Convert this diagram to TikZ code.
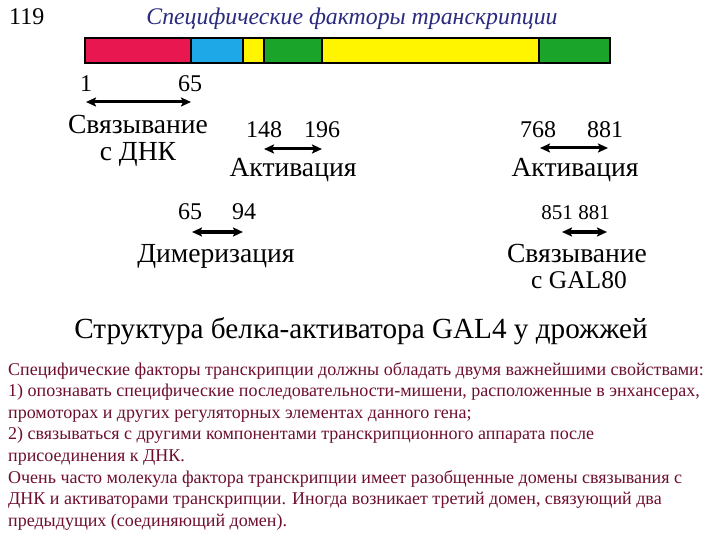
\documentclass[tikz,border=0pt]{standalone}
\usepackage{fontspec}
\setmainfont{Liberation Serif}
\usetikzlibrary{arrows.meta}
\definecolor{segred}{HTML}{E8174F}
\definecolor{segblue}{HTML}{1EA8E8}
\definecolor{segyellow}{HTML}{FFF500}
\definecolor{seggreen}{HTML}{1AA52A}
\definecolor{titleblue}{HTML}{2A2A80}
\definecolor{bodyred}{HTML}{6E0F2E}
\begin{document}
\begin{tikzpicture}[x=1pt,y=-1pt,
  seg/.style={draw=black,line width=1.2pt},
  num/.style={font=\fontsize{24}{26}\selectfont,anchor=base,inner sep=0pt},
  smallnum/.style={font=\fontsize{21}{24}\selectfont,anchor=base,inner sep=0pt},
  lab/.style={font=\fontsize{27.6}{30}\selectfont,anchor=base,inner sep=0pt},
  body/.style={font=\fontsize{18}{20}\selectfont,text=bodyred,anchor=base west,inner sep=0pt},
  span/.style={{Stealth[length=10pt,width=9pt,inset=2pt]}-{Stealth[length=10pt,width=9pt,inset=2pt]},line width=3pt}]
\useasboundingbox[fill=white] (0,0) rectangle (720,540);

\node[anchor=base west,inner sep=0pt,font=\fontsize{24}{26}\selectfont] (pg) at (9,25) {119};
\node[anchor=base,inner sep=0pt,font=\fontsize{23.8}{26}\selectfont\itshape,text=titleblue] (ttl) at (352,25) {Специфические факторы транскрипции};

% protein bar
\path[fill=segred]    (85,38) rectangle (191,63);
\path[fill=segblue]   (191,38) rectangle (243,63);
\path[fill=segyellow] (243,38) rectangle (264,63);
\path[fill=seggreen]  (264,38) rectangle (322,63);
\path[fill=segyellow] (322,38) rectangle (539,63);
\path[fill=seggreen]  (539,38) rectangle (610,63);
\draw[seg] (85,38) rectangle (610,63);
\foreach \xx in {191,243,264,322,539} \draw[seg] (\xx,38) -- (\xx,63);

% DNA binding 1-65
\node[num] (n1) at (86,92) {1};
\node[num] (n65a) at (190,92) {65};
\coordinate (a1l) at (86,102);
\coordinate (a1r) at (191,102);
\draw[span] (a1l) -- (a1r);
\node[lab] (dnab1) at (138,134) {Связывание};
\node[lab] (dnab2) at (138,161) {с ДНК};

% activation 148-196
\node[num] (n148) at (264,138) {148};
\node[num] (n196) at (322,138) {196};
\coordinate (a2l) at (264,149);
\coordinate (a2r) at (322,149);
\draw[span] (a2l) -- (a2r);
\node[lab] (act1) at (293,177) {Активация};

% dimerization 65-94
\node[num] (n65b) at (190,220) {65};
\node[num] (n94) at (244,220) {94};
\coordinate (a3l) at (192,232);
\coordinate (a3r) at (243,232);
\draw[span] (a3l) -- (a3r);
\node[lab] (dim) at (216,262) {Димеризация};

% activation 768-881
\node[num] (n768) at (538,138) {768};
\node[num] (n881a) at (605,138) {881};
\coordinate (a4l) at (540,148);
\coordinate (a4r) at (608,148);
\draw[span] (a4l) -- (a4r);
\node[lab] (act2) at (575,177) {Активация};

% GAL80 binding 851-881
\node[smallnum] (n851) at (557,220) {851};
\node[smallnum] (n881b) at (594,220) {881};
\coordinate (a5l) at (562,232);
\coordinate (a5r) at (607,232);
\draw[span] (a5l) -- (a5r);
\node[lab] (gal1) at (577,262) {Связывание};
\node[lab,font=\fontsize{25.5}{28}\selectfont] (gal2) at (579,288) {с GAL80};

\node[anchor=base,inner sep=0pt,font=\fontsize{29.2}{31}\selectfont] (cap) at (361,338) {Структура белка-активатора GAL4 у дрожжей};

% body text
\node[body] (l1) at (8,375) {Специфические факторы транскрипции должны обладать двумя важнейшими свойствами:};
\node[body] (l2) at (8,396.6) {1) опознавать специфические последовательности-мишени, расположенные в энхансерах,};
\node[body] (l3) at (8,418.2) {промоторах и других регуляторных элементах данного гена;};
\node[body] (l4) at (8,439.8) {2) связываться с другими компонентами транскрипционного аппарата после};
\node[body] (l5) at (8,461.4) {присоединения к ДНК.};
\node[body] (l6) at (8,483) {Очень часто молекула фактора транскрипции имеет разобщенные домены связывания с};
\node[body] (l7) at (8,504.6) {ДНК и активаторами транскрипции. Иногда возникает третий домен, связующий два};
\node[body] (l8) at (8,526.2) {предыдущих (соединяющий домен).};
\end{tikzpicture}
\end{document}
